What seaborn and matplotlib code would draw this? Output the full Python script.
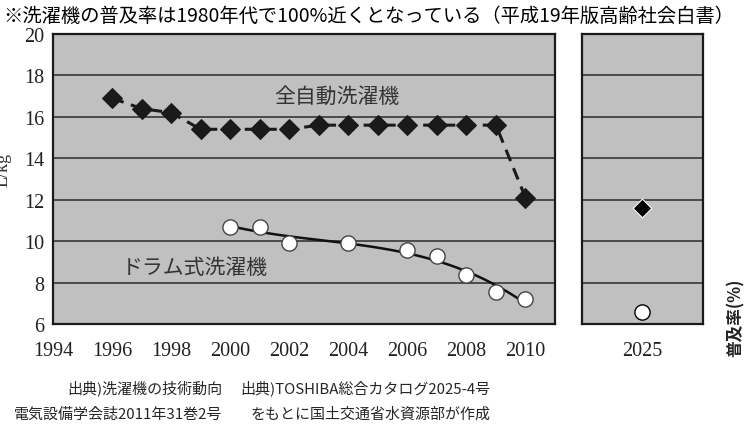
import numpy as np
import pandas as pd
import matplotlib
matplotlib.use('Agg')
import matplotlib.pyplot as plt
import seaborn as sns

# 使用水量 (L/kg) - 読み取り値
auto_years = [1996, 1997, 1998, 1999, 2000, 2001, 2002, 2003, 2004, 2005, 2006, 2007, 2008, 2009, 2010]
auto_water = [16.9, 16.4, 16.2, 15.4, 15.4, 15.4, 15.4, 15.6, 15.6, 15.6, 15.6, 15.6, 15.6, 15.6, 12.1]

drum_years = [2000, 2001, 2002, 2004, 2006, 2007, 2008, 2009, 2010]
drum_water = [10.7, 10.7, 9.9, 9.9, 9.55, 9.3, 8.35, 7.55, 7.2]

new_year = [2025]
new_auto = [11.6]
new_drum = [6.6]

xticks = [1994, 1996, 1998, 2000, 2002, 2004, 2006, 2008, 2010]
yticks = [6, 8, 10, 12, 14, 16, 18, 20]

auto_df = pd.DataFrame({'year': auto_years, 'water': auto_water})
drum_df = pd.DataFrame({'year': drum_years, 'water': drum_water})

sns.set_style('white')
plt.rcParams['font.family'] = ['Noto Sans CJK JP', 'DejaVu Sans']

fig = plt.figure(figsize=(7.49, 4.35), dpi=100)
ax = fig.add_axes([0.0708, 0.2529, 0.6702, 0.6666])
ax2 = fig.add_axes([0.777, 0.2529, 0.1615, 0.6666])

bg = '#c0c0c0'
for a in (ax, ax2):
    a.set_facecolor(bg)
    a.set_ylim(6, 20)
    a.set_yticks(yticks)
    a.grid(axis='y', color='#2a2a2a', lw=1.1)
    a.grid(axis='x', visible=False)
    a.set_axisbelow(True)
    for s in a.spines.values():
        s.set_color('#1a1a1a')
        s.set_linewidth(1.6)

# 全自動洗濯機
sns.lineplot(data=auto_df, x='year', y='water', ax=ax, color='#1a1a1a',
             lw=2.2, linestyle=(0, (4, 2.5)), marker='D', markersize=10,
             markeredgecolor='#1a1a1a', zorder=3)

# ドラム式洗濯機 (近似曲線)
sns.regplot(data=drum_df, x='year', y='water', ax=ax, order=3, ci=None,
            scatter=False, truncate=True, line_kws={'color': '#111111', 'lw': 1.8, 'zorder': 3})
sns.scatterplot(data=drum_df, x='year', y='water', ax=ax, color='white',
                edgecolor='#444444', linewidth=1.0, s=120, zorder=4)

ax.set_xlim(1994, 2011)
ax.set_xticks(xticks)
ax.set_xlabel('')
ax.set_ylabel('')
ax.tick_params(axis='x', direction='in', length=5, width=1, color='#1a1a1a', pad=12)
ax.tick_params(axis='y', length=0, pad=6)
for lab in ax.get_xticklabels() + ax.get_yticklabels():
    lab.set_family('Liberation Serif')
    lab.set_fontsize(14.5)
    lab.set_color('#222222')

ax.text(2003.6, 17.0, '全自動洗濯機', fontsize=15, color='#333333', ha='center', va='center')
ax.text(1998.8, 8.75, 'ドラム式洗濯機', fontsize=15, color='#333333', ha='center', va='center')

# 2025年
sns.scatterplot(x=new_year, y=new_auto, ax=ax2, color='black', marker='D', s=90, zorder=4)
sns.scatterplot(x=new_year, y=new_drum, ax=ax2, color='white', edgecolor='black',
                linewidth=1.0, s=120, zorder=4)
ax2.set_xlim(2024, 2026)
ax2.set_xticks(new_year)
ax2.set_yticklabels([])
ax2.set_xlabel('')
ax2.set_ylabel('')
ax2.tick_params(axis='y', length=0)
ax2.tick_params(axis='x', direction='in', length=5, width=1, color='#1a1a1a', pad=12)
for lab in ax2.get_xticklabels():
    lab.set_family('Liberation Serif')
    lab.set_fontsize(14.5)
    lab.set_color('#222222')

fig.text(0.004, 0.962, '※洗濯機の普及率は1980年代で100%近くとなっている（平成19年版高齢社会白書）',
         fontsize=13.9, ha='left', va='center', color='black')
fig.text(0.982, 0.27, '普及率(%)', rotation=90, fontsize=12, fontweight='bold',
         ha='center', va='center', color='#222222')
fig.text(0.004, 0.61, 'L/kg', rotation=90, fontsize=13, ha='center', va='center',
         family='Liberation Serif', color='#333333')

fig.text(0.297, 0.108, '出典)洗濯機の技術動向', fontsize=10.8, ha='right', va='center')
fig.text(0.297, 0.046, '電気設備学会誌2011年31巻2号', fontsize=10.8, ha='right', va='center')
fig.text(0.655, 0.108, '出典)TOSHIBA総合カタログ2025-4号', fontsize=10.8, ha='right', va='center')
fig.text(0.655, 0.046, 'をもとに国土交通省水資源部が作成', fontsize=10.8, ha='right', va='center')

fig.savefig('out.png', dpi=100)
